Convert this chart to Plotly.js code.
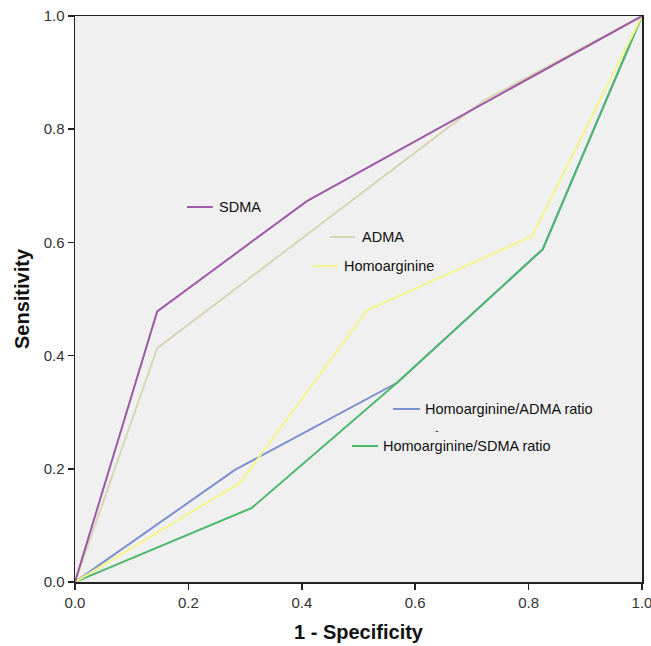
<!DOCTYPE html>
<html>
<head>
<meta charset="utf-8">
<script src="https://cdn.plot.ly/plotly-3.0.1.min.js"></script>
<style>html,body{margin:0;padding:0;background:#fff;}#chart{width:651px;height:646px;}</style>
</head>
<body>
<div id="chart"></div>
<script>
// ROC curve data (1 - Specificity, Sensitivity)
const seriesNames = ["Homoarginine/ADMA ratio", "Homoarginine/SDMA ratio", "Homoarginine", "ADMA", "SDMA"];
const hadmaX = [0, 0.282, 0.568, 0.825, 1];
const hadmaY = [0, 0.198, 0.352, 0.588, 1];
const hsdmaX = [0, 0.312, 0.568, 0.825, 1];
const hsdmaY = [0, 0.131, 0.352, 0.588, 1];
const homoX = [0, 0.291, 0.515, 0.806, 1];
const homoY = [0, 0.175, 0.480, 0.611, 1];
const admaX = [0, 0.145, 0.72, 1];
const admaY = [0, 0.413, 0.85, 1];
const sdmaX = [0, 0.145, 0.409, 1];
const sdmaY = [0, 0.478, 0.673, 1];
const tickVals = [0, 0.2, 0.4, 0.6, 0.8, 1.0];
const tickText = ["0.0", "0.2", "0.4", "0.6", "0.8", "1.0"];

const colors = {
  hadma: "#7b8fd0",
  hsdma: "#4cb86a",
  homo: "#f4f48a",
  adma: "#d8d6b2",
  sdma: "#9c5aa6"
};

const traces = [
  {x: hadmaX, y: hadmaY, name: seriesNames[0], mode: "lines", line: {color: colors.hadma, width: 2}},
  {x: hsdmaX, y: hsdmaY, name: seriesNames[1], mode: "lines", line: {color: colors.hsdma, width: 2}},
  {x: homoX, y: homoY, name: seriesNames[2], mode: "lines", line: {color: colors.homo, width: 2}},
  {x: admaX, y: admaY, name: seriesNames[3], mode: "lines", line: {color: colors.adma, width: 2}},
  {x: sdmaX, y: sdmaY, name: seriesNames[4], mode: "lines", line: {color: colors.sdma, width: 2}}
];

const FONT = "Liberation Sans, Arial, sans-serif";

// inline labels: [segment x0, x1, y, text x, color, text]
const labels = [
  [0.1975, 0.243, 0.6625, 0.2504, colors.sdma, "SDMA"],
  [0.4497, 0.4938, 0.6095, 0.5026, colors.adma, "ADMA"],
  [0.4198, 0.4638, 0.5583, 0.4709, colors.homo, "Homoarginine"],
  [0.5608, 0.6085, 0.3057, 0.6138, colors.hadma, "Homoarginine/ADMA ratio"],
  [0.4885, 0.5344, 0.2403, 0.5397, colors.hsdma, "Homoarginine/SDMA ratio"]
];

const shapes = labels.map(l => ({type: "line", xref: "x", yref: "y", x0: l[0], x1: l[1], y0: l[2], y1: l[2], line: {color: l[4], width: 2}}));
const annotations = labels.map(l => ({xref: "x", yref: "y", x: l[3], y: l[2], text: l[5], showarrow: false, xanchor: "left", yanchor: "middle", font: {family: FONT, size: 14.5, color: "#111"}}));
annotations.push({xref: "x", yref: "y", x: 0.6384, y: 0.2685, text: "-", showarrow: false, xanchor: "center", yanchor: "middle", font: {family: FONT, size: 11, color: "#444"}});

const axisCommon = {
  range: [0, 1],
  tickvals: tickVals,
  ticktext: tickText,
  showline: true,
  mirror: true,
  linecolor: "#222",
  linewidth: 1.5,
  ticks: "outside",
  ticklen: 6,
  tickwidth: 1.5,
  tickcolor: "#222",
  showgrid: false,
  zeroline: false,
  ticklabeloverflow: "allow",
  tickfont: {family: FONT, size: 15, color: "#333"},
  fixedrange: true
};

const layout = {
  width: 651,
  height: 646,
  margin: {l: 75, r: 9, t: 16, b: 64},
  paper_bgcolor: "#ffffff",
  plot_bgcolor: "#f0f0f0",
  showlegend: false,
  xaxis: Object.assign({}, axisCommon, {
    title: {text: "1 - Specificity", font: {family: FONT, size: 20, color: "#111", weight: "bold"}, standoff: 15}
  }),
  yaxis: Object.assign({}, axisCommon, {
    title: {text: "Sensitivity", font: {family: FONT, size: 20, color: "#111", weight: "bold"}, standoff: 8}
  }),
  shapes: shapes,
  annotations: annotations
};

Plotly.newPlot("chart", traces, layout, {displayModeBar: false, staticPlot: true});
</script>
</body>
</html>
